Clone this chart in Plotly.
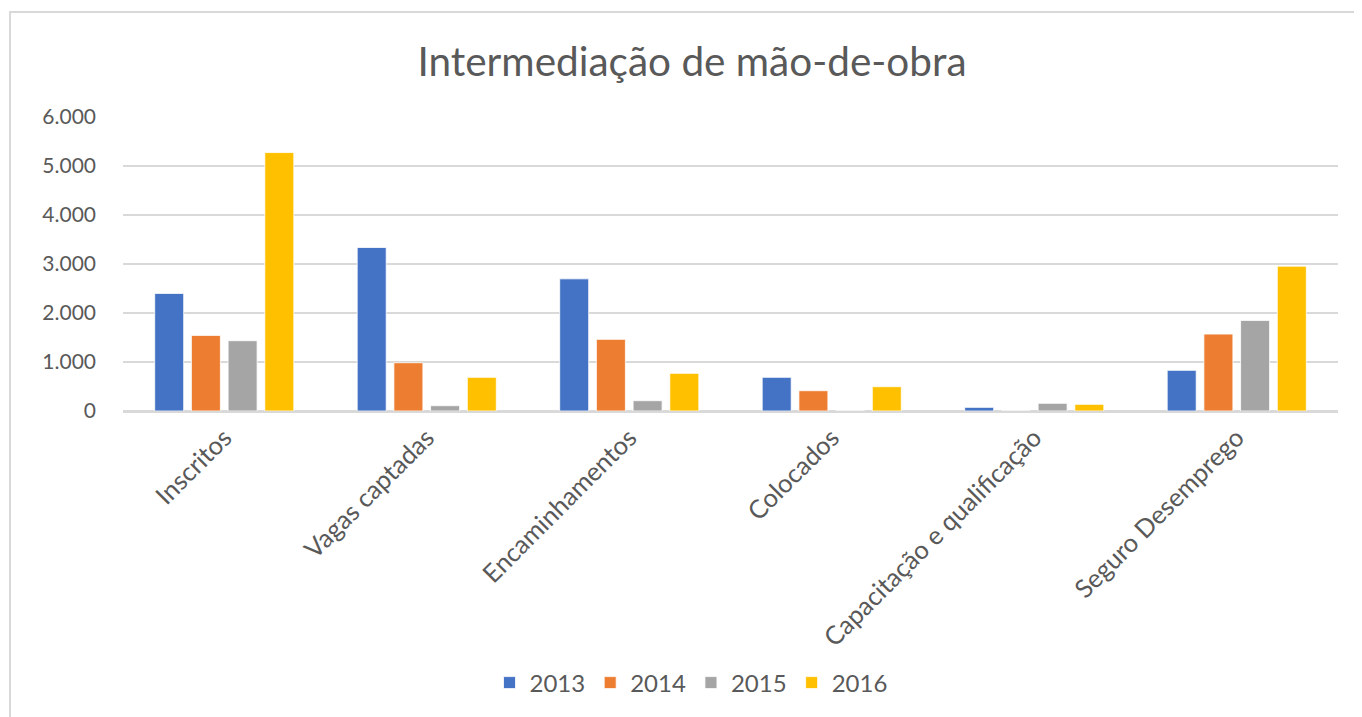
import plotly.graph_objects as go

categories = ["Inscritos", "Vagas captadas", "Encaminhamentos", "Colocados",
              "Capacitação e qualificação", "Seguro Desemprego"]
years = ["2013", "2014", "2015", "2016"]
v2013 = [2400, 3337, 2697, 687, 75, 830]
v2014 = [1543, 985, 1462, 414, 0, 1570]
v2015 = [1434, 108, 210, 0, 157, 1849]
v2016 = [5274, 687, 768, 496, 136, 2956]
series = [v2013, v2014, v2015, v2016]
colors = ["#4472C4", "#ED7D31", "#A5A5A5", "#FFC000"]

FONT = "Lato"
GREY = "#595959"

# plot area in figure pixels
L, R, T, B = 115, 32, 109, 314
W, H = 1362, 717
PW, PH = W - L - R, H - T - B

fig = go.Figure()
for name, vals, col in zip(years, series, colors):
    fig.add_trace(go.Bar(name=name, x=categories, y=vals,
                         marker=dict(color=col, line=dict(color="white", width=0.8))))

fig.update_layout(
    width=W, height=H,
    paper_bgcolor="white", plot_bgcolor="white",
    separators=",.",
    barmode="group", bargap=0.275, bargroupgap=0.21,
    margin=dict(l=L, r=R, t=T, b=B, autoexpand=False),
    font=dict(family=FONT, color=GREY, size=21),
    title=dict(text="Intermediação de mão-de-obra", x=684 / W, xref="container",
               y=1 - 54 / H, yref="container", xanchor="center", yanchor="middle",
               font=dict(family=FONT, size=40.5, color=GREY)),
    legend=dict(orientation="h", x=(683 - L) / PW, xanchor="center",
                y=(T + PH - 675) / PH, yanchor="middle",
                font=dict(family=FONT, size=24, color=GREY), traceorder="normal",
                itemwidth=30),
    showlegend=True,
)
fig.update_yaxes(range=[0, 6000], dtick=1000, tickformat=",d", showgrid=True,
                 gridcolor="#D9D9D9", gridwidth=1.5, zeroline=True, zerolinecolor="#D9D9D9",
                 zerolinewidth=1.5, ticks="", tickfont=dict(size=21, color=GREY),
                 ticklabelstandoff=26, showline=False)
fig.update_xaxes(tickangle=-45, ticks="", showline=True, linecolor="#D9D9D9", linewidth=1.5,
                 tickfont=dict(size=25.5, color=GREY))

# chart border (Excel frame, cropped on right and bottom)
fig.add_shape(type="rect", xref="paper", yref="paper",
              x0=(2 - L) / PW, x1=(1450 - L) / PW,
              y0=(T + PH - 800) / PH, y1=(T + PH - 4) / PH,
              line=dict(color="#D9D9D9", width=2), fillcolor="rgba(0,0,0,0)", layer="below")

fig.write_html("out.html")
